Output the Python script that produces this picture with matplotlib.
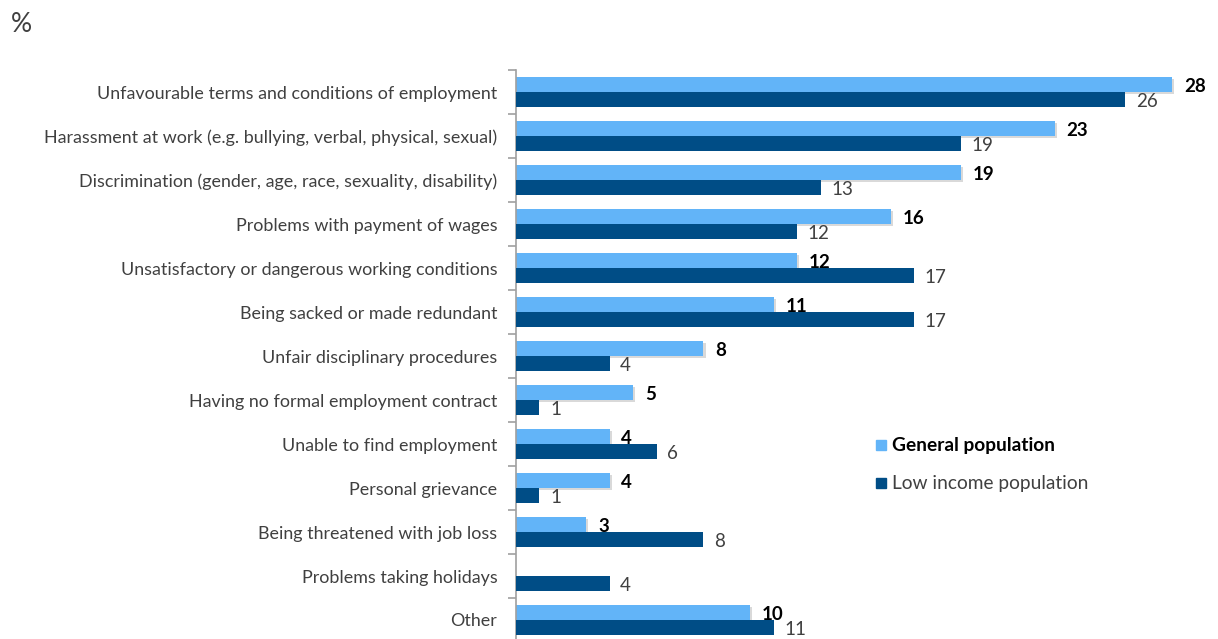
import numpy as np
import matplotlib
matplotlib.use("Agg")
import matplotlib.pyplot as plt
from matplotlib import patheffects as pe
from matplotlib.patches import Rectangle

categories = [
    "Unfavourable terms and conditions of employment",
    "Harassment at work (e.g. bullying, verbal, physical, sexual)",
    "Discrimination (gender, age, race, sexuality, disability)",
    "Problems with payment of wages",
    "Unsatisfactory or dangerous working conditions",
    "Being sacked or made redundant",
    "Unfair disciplinary procedures",
    "Having no formal employment contract",
    "Unable to find employment",
    "Personal grievance",
    "Being threatened with job loss",
    "Problems taking holidays",
    "Other",
]
general = [28, 23, 19, 16, 12, 11, 8, 5, 4, 4, 3, None, 10]
low_income = [26, 19, 13, 12, 17, 17, 4, 1, 6, 1, 8, 4, 11]

series_names = ["General population", "Low income population"]
light_blue = "#62B4F8"
dark_blue = "#004D86"
text_grey = "#404040"

plt.rcParams["font.family"] = ["Lato", "DejaVu Sans"]

W, H = 1218, 639
fig = plt.figure(figsize=(W / 100, H / 100), dpi=100)

x_left, x_right = 516, 516 + 30 * 23.43
y_top, y_bot = 70, 642
ax = fig.add_axes([x_left / W, (H - y_bot) / H, (x_right - x_left) / W, (y_bot - y_top) / H])

n = len(categories)
ypos = np.arange(n)
bh = 0.34

shadow = [pe.SimplePatchShadow(offset=(1.5, -1.5), shadow_rgbFace="#000000", alpha=0.15), pe.Normal()]

for i in range(n):
    g = general[i]
    lo = low_income[i]
    if g is not None:
        bar = ax.barh(ypos[i] - bh / 2, g, height=bh, color=light_blue, zorder=2)
        for p in bar:
            p.set_path_effects(shadow)
        ax.text(g + 0.5, ypos[i] - bh / 2 + 0.05, f"{g}", ha="left", va="center",
                fontsize=13.5, fontweight="bold", color="black", zorder=4)
    ax.barh(ypos[i] + bh / 2, lo, height=bh, color=dark_blue, zorder=3)
    ax.text(lo + 0.45, ypos[i] + bh / 2 + 0.04, f"{lo}", ha="left", va="center",
            fontsize=13.5, color=text_grey, zorder=4)

ax.set_xlim(0, 30)
ax.set_ylim(n - 0.5, -0.5)

for s in ["top", "right", "bottom"]:
    ax.spines[s].set_visible(False)
ax.spines["left"].set_color("#A0A0A0")
ax.spines["left"].set_linewidth(1.2)

ax.set_xticks([])
ax.set_yticks(ypos)
ax.set_yticklabels(categories, fontsize=12.9, color=text_grey)
ax.tick_params(axis="y", which="major", length=0, pad=13.5)
ax.set_yticks(np.arange(-0.5, n, 1.0), minor=True)
ax.tick_params(axis="y", which="minor", length=6, width=1.2, color="#A0A0A0", direction="out")

fig.text(11 / W, 1 - 25 / H, "%", fontsize=19, color=text_grey, ha="left", va="center")

# legend drawn as squares and text in figure coordinates
legend_items = [
    (series_names[0], light_blue, 445, "bold", "black"),
    (series_names[1], dark_blue, 483, "normal", text_grey),
]
for name, col, yy, fw, tc in legend_items:
    fig.patches.append(Rectangle((876 / W, 1 - (yy + 5) / H), 10 / W, 10 / H,
                                 transform=fig.transFigure, color=col))
    fig.text(892 / W, 1 - yy / H, name, fontsize=13.8, fontweight=fw, color=tc,
             ha="left", va="center")

fig.savefig("out.png", dpi=100)
